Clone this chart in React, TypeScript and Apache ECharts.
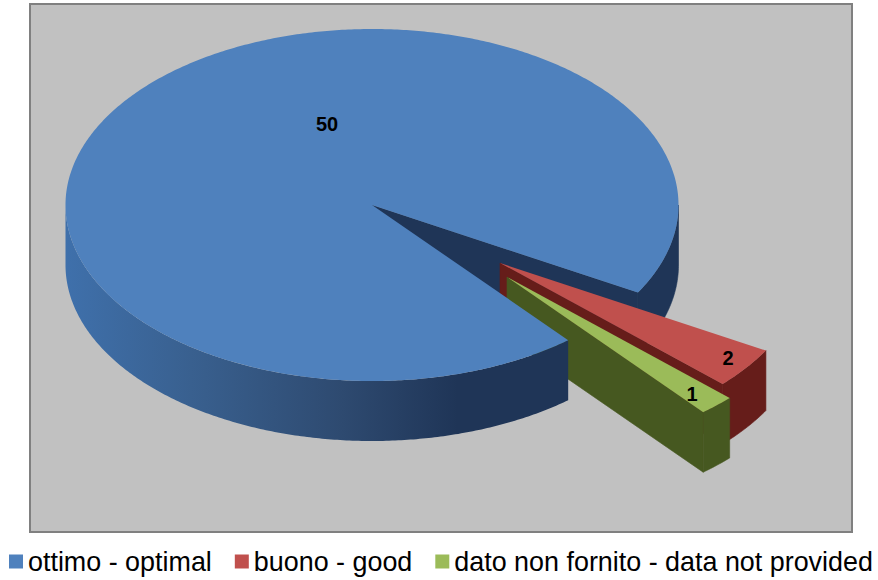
import React, { useEffect, useRef } from "react";
import * as echarts from "echarts";

const categories = ["ottimo - optimal", "buono - good", "dato non fornito - data not provided"];
const values = [50, 2, 1];
const topColors = ["#4f81bd", "#c0504d", "#9bbb59"];
const wallColors = ["#1f3557", "#661d1a", "#465820"];

const FONT = '"Liberation Sans", Arial, sans-serif';
const TOTAL = values.reduce((a, b) => a + b, 0);
const START_DEG = 50.2; // the first slice begins here, clockwise from 3 o'clock
const RX = 306.5;
const RY = 176;
const DEPTH = 60;
const CENTERS = [
  [372, 205],
  [500, 263],
  [507, 277],
];
const LABEL_POS = [
  [327, 124],
  [728, 358],
  [692, 394],
];

// Slice angles in radians, accumulated from the values.
function sliceAngles(i: number): [number, number] {
  const before = values.slice(0, i).reduce((a, b) => a + b, 0);
  const a0 = START_DEG + (before / TOTAL) * 360;
  const a1 = a0 + (values[i] / TOTAL) * 360;
  return [(a0 * Math.PI) / 180, (a1 * Math.PI) / 180];
}

function rim(c: number[], a0: number, a1: number, dy = 0): number[][] {
  const steps = Math.max(2, Math.ceil(Math.abs(a1 - a0) / 0.01));
  const pts: number[][] = [];
  for (let k = 0; k <= steps; k++) {
    const a = a0 + ((a1 - a0) * k) / steps;
    pts.push([c[0] + RX * Math.cos(a), c[1] + RY * Math.sin(a) + dy]);
  }
  return pts;
}

function wall(c: number[], a0: number, a1: number): number[][] {
  return [...rim(c, a0, a1), ...rim(c, a1, a0, DEPTH)];
}

function cutFace(c: number[], a: number): number[][] {
  const p = rim(c, a, a)[0];
  return [c, p, [p[0], p[1] + DEPTH], [c[0], c[1] + DEPTH]];
}

// A thin same-coloured stroke closes the hairline seam between adjoining faces.
const poly = (points: number[][], fill: any, z2: number, sealed = false) => ({
  type: "polygon",
  z2,
  shape: { points },
  style: sealed ? { fill, stroke: fill, lineWidth: 0.6 } : { fill, stroke: "none" },
});

const frontShade = new echarts.graphic.LinearGradient(0, 0, 1, 0, [
  { offset: 0, color: "#3f70ab" },
  { offset: 0.25, color: "#39608f" },
  { offset: 0.55, color: "#2e4a70" },
  { offset: 0.78, color: "#1f3557" },
  { offset: 1, color: "#1f3557" },
]);

function renderSlice(i: number) {
  const c = CENTERS[i];
  const [a0, a1] = sliceAngles(i);
  const children: any[] = [];
  if (i === 0) {
    // Large slice: the far cut and right rim sit behind the two small slices,
    // the front rim and top sit over their inner ends.
    children.push(poly(cutFace(c, a1), wallColors[0], 1, true));
    children.push(poly(wall(c, 2 * Math.PI, a1), wallColors[0], 1, true));
    children.push(poly(wall(c, a0, Math.PI), frontShade, 5));
    children.push(poly([c, ...rim(c, a0, a1)], topColors[0], 6));
  } else {
    const z = i === 1 ? 2 : 3;
    children.push(poly(cutFace(c, a1), wallColors[i], z, true));
    children.push(poly(wall(c, a0, a1), wallColors[i], z, true));
    children.push(poly([c, ...rim(c, a0, a1)], topColors[i], 7 + i));
  }
  children.push({
    type: "text",
    z2: 20,
    style: {
      x: LABEL_POS[i][0],
      y: LABEL_POS[i][1],
      text: String(values[i]),
      fill: "#000",
      font: `bold 20px ${FONT}`,
      align: "center",
      verticalAlign: "middle",
    },
  });
  return { type: "group", children };
}

export default function App() {
  const ref = useRef<HTMLDivElement>(null);
  useEffect(() => {
    const chart = echarts.init(ref.current!, undefined, { renderer: "svg" });
    chart.setOption({
      animation: false,
      backgroundColor: "#ffffff",
      graphic: [
        {
          type: "rect",
          z: -1,
          shape: { x: 30, y: 4, width: 822, height: 528 },
          style: { fill: "#c1c1c1", stroke: "#808080", lineWidth: 2 },
        },
      ],
      legend: {
        left: 9,
        top: 548,
        width: 869,
        padding: 0,
        itemWidth: 14,
        itemHeight: 14,
        itemGap: 23,
        icon: "rect",
        data: categories,
        selectedMode: false,
        textStyle: { fontFamily: FONT, fontSize: 26.9, color: "#000" },
      },
      series: categories.map((name, i) => ({
        type: "custom",
        name,
        coordinateSystem: "none",
        data: [[values[i]]],
        itemStyle: { color: topColors[i] },
        renderItem: () => renderSlice(i),
      })),
    });
    return () => chart.dispose();
  }, []);
  return <div ref={ref} style={{ position: "fixed", left: 0, top: 0, width: 878, height: 580 }} />;
}
